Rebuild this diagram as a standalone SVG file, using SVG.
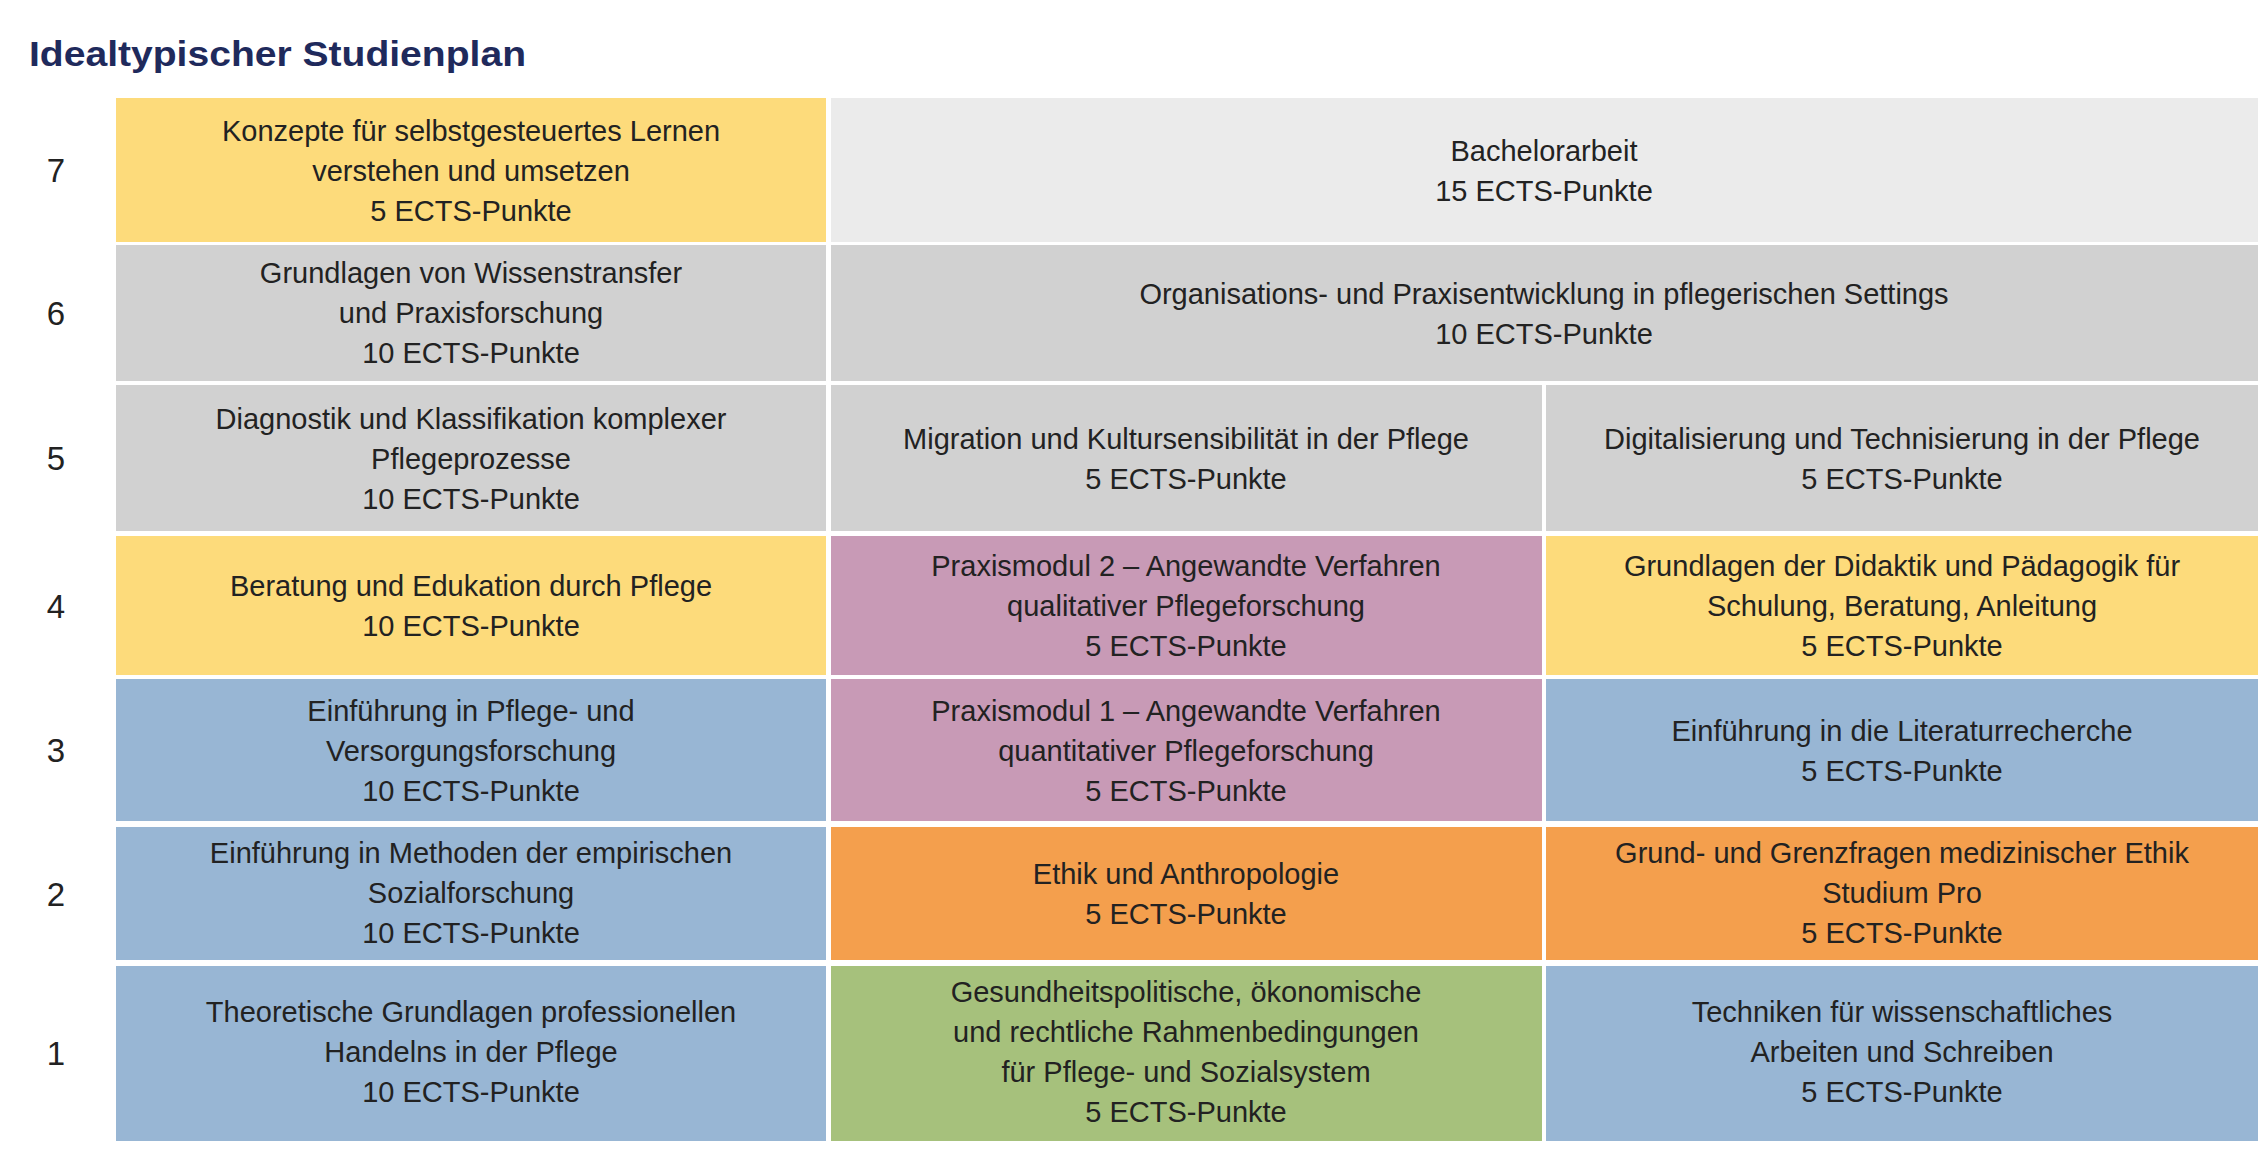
<svg xmlns="http://www.w3.org/2000/svg" width="2261" height="1150" viewBox="0 0 2261 1150">
<style>
text{font-family:"Liberation Sans",Arial,sans-serif;fill:#222}
.c{font-size:29px;text-anchor:middle;dominant-baseline:central}
.n{font-size:33px;text-anchor:middle;dominant-baseline:central}
.t{font-size:35px;font-weight:bold;fill:#1f2a5c}
.y{fill:#fddb7b}.g{fill:#d1d1d1}.l{fill:#ebebeb}.p{fill:#c89ab6}.b{fill:#98b6d4}.o{fill:#f49f4d}.gr{fill:#a6c17c}
</style>
<rect width="2261" height="1150" fill="#fff"/>
<text class="t" x="29" y="66" textLength="497" lengthAdjust="spacingAndGlyphs">Idealtypischer Studienplan</text>
<g id="labels">
<text class="n" x="56" y="170">7</text><text class="n" x="56" y="313">6</text><text class="n" x="56" y="458">5</text><text class="n" x="56" y="606">4</text><text class="n" x="56" y="750">3</text><text class="n" x="56" y="894">2</text><text class="n" x="56" y="1053">1</text>
</g>
<g id="r7c1"><rect class="y" x="116" y="98" width="710" height="144"/><text class="c" x="471"><tspan x="471" y="131">Konzepte für selbstgesteuertes Lernen</tspan><tspan x="471" y="171">verstehen und umsetzen</tspan><tspan x="471" y="211">5 ECTS-Punkte</tspan></text></g>
<g id="r7c2"><rect class="l" x="831" y="98" width="1427" height="144"/><text class="c"><tspan x="1544" y="151">Bachelorarbeit</tspan><tspan x="1544" y="191">15 ECTS-Punkte</tspan></text></g>
<g id="r6c1"><rect class="g" x="116" y="245" width="710" height="136"/><text class="c"><tspan x="471" y="273">Grundlagen von Wissenstransfer</tspan><tspan x="471" y="313">und Praxisforschung</tspan><tspan x="471" y="353">10 ECTS-Punkte</tspan></text></g>
<g id="r6c2"><rect class="g" x="831" y="245" width="1427" height="136"/><text class="c"><tspan x="1544" y="294">Organisations- und Praxisentwicklung in pflegerischen Settings</tspan><tspan x="1544" y="334">10 ECTS-Punkte</tspan></text></g>
<g id="r5c1"><rect class="g" x="116" y="385" width="710" height="146"/><text class="c"><tspan x="471" y="419">Diagnostik und Klassifikation komplexer</tspan><tspan x="471" y="459">Pflegeprozesse</tspan><tspan x="471" y="499">10 ECTS-Punkte</tspan></text></g>
<g id="r5c2"><rect class="g" x="831" y="385" width="711" height="146"/><text class="c"><tspan x="1186" y="439">Migration und Kultursensibilität in der Pflege</tspan><tspan x="1186" y="479">5 ECTS-Punkte</tspan></text></g>
<g id="r5c3"><rect class="g" x="1546" y="385" width="712" height="146"/><text class="c"><tspan x="1902" y="439">Digitalisierung und Technisierung in der Pflege</tspan><tspan x="1902" y="479">5 ECTS-Punkte</tspan></text></g>
<g id="r4c1"><rect class="y" x="116" y="536" width="710" height="139"/><text class="c"><tspan x="471" y="586">Beratung und Edukation durch Pflege</tspan><tspan x="471" y="626">10 ECTS-Punkte</tspan></text></g>
<g id="r4c2"><rect class="p" x="831" y="536" width="711" height="139"/><text class="c"><tspan x="1186" y="566">Praxismodul 2 – Angewandte Verfahren</tspan><tspan x="1186" y="606">qualitativer Pflegeforschung</tspan><tspan x="1186" y="646">5 ECTS-Punkte</tspan></text></g>
<g id="r4c3"><rect class="y" x="1546" y="536" width="712" height="139"/><text class="c"><tspan x="1902" y="566">Grundlagen der Didaktik und Pädagogik für</tspan><tspan x="1902" y="606">Schulung, Beratung, Anleitung</tspan><tspan x="1902" y="646">5 ECTS-Punkte</tspan></text></g>
<g id="r3c1"><rect class="b" x="116" y="679" width="710" height="142"/><text class="c"><tspan x="471" y="711">Einführung in Pflege- und</tspan><tspan x="471" y="751">Versorgungsforschung</tspan><tspan x="471" y="791">10 ECTS-Punkte</tspan></text></g>
<g id="r3c2"><rect class="p" x="831" y="679" width="711" height="142"/><text class="c"><tspan x="1186" y="711">Praxismodul 1 – Angewandte Verfahren</tspan><tspan x="1186" y="751">quantitativer Pflegeforschung</tspan><tspan x="1186" y="791">5 ECTS-Punkte</tspan></text></g>
<g id="r3c3"><rect class="b" x="1546" y="679" width="712" height="142"/><text class="c"><tspan x="1902" y="731">Einführung in die Literaturrecherche</tspan><tspan x="1902" y="771">5 ECTS-Punkte</tspan></text></g>
<g id="r2c1"><rect class="b" x="116" y="827" width="710" height="133"/><text class="c"><tspan x="471" y="853">Einführung in Methoden der empirischen</tspan><tspan x="471" y="893">Sozialforschung</tspan><tspan x="471" y="933">10 ECTS-Punkte</tspan></text></g>
<g id="r2c2"><rect class="o" x="831" y="827" width="711" height="133"/><text class="c"><tspan x="1186" y="874">Ethik und Anthropologie</tspan><tspan x="1186" y="914">5 ECTS-Punkte</tspan></text></g>
<g id="r2c3"><rect class="o" x="1546" y="827" width="712" height="133"/><text class="c"><tspan x="1902" y="853">Grund- und Grenzfragen medizinischer Ethik</tspan><tspan x="1902" y="893">Studium Pro</tspan><tspan x="1902" y="933">5 ECTS-Punkte</tspan></text></g>
<g id="r1c1"><rect class="b" x="116" y="966" width="710" height="175"/><text class="c"><tspan x="471" y="1012">Theoretische Grundlagen professionellen</tspan><tspan x="471" y="1052">Handelns in der Pflege</tspan><tspan x="471" y="1092">10 ECTS-Punkte</tspan></text></g>
<g id="r1c2"><rect class="gr" x="831" y="966" width="711" height="175"/><text class="c"><tspan x="1186" y="992">Gesundheitspolitische, ökonomische</tspan><tspan x="1186" y="1032">und rechtliche Rahmenbedingungen</tspan><tspan x="1186" y="1072">für Pflege- und Sozialsystem</tspan><tspan x="1186" y="1112">5 ECTS-Punkte</tspan></text></g>
<g id="r1c3"><rect class="b" x="1546" y="966" width="712" height="175"/><text class="c"><tspan x="1902" y="1012">Techniken für wissenschaftliches</tspan><tspan x="1902" y="1052">Arbeiten und Schreiben</tspan><tspan x="1902" y="1092">5 ECTS-Punkte</tspan></text></g>
<g id="connectors"/>
</svg>
